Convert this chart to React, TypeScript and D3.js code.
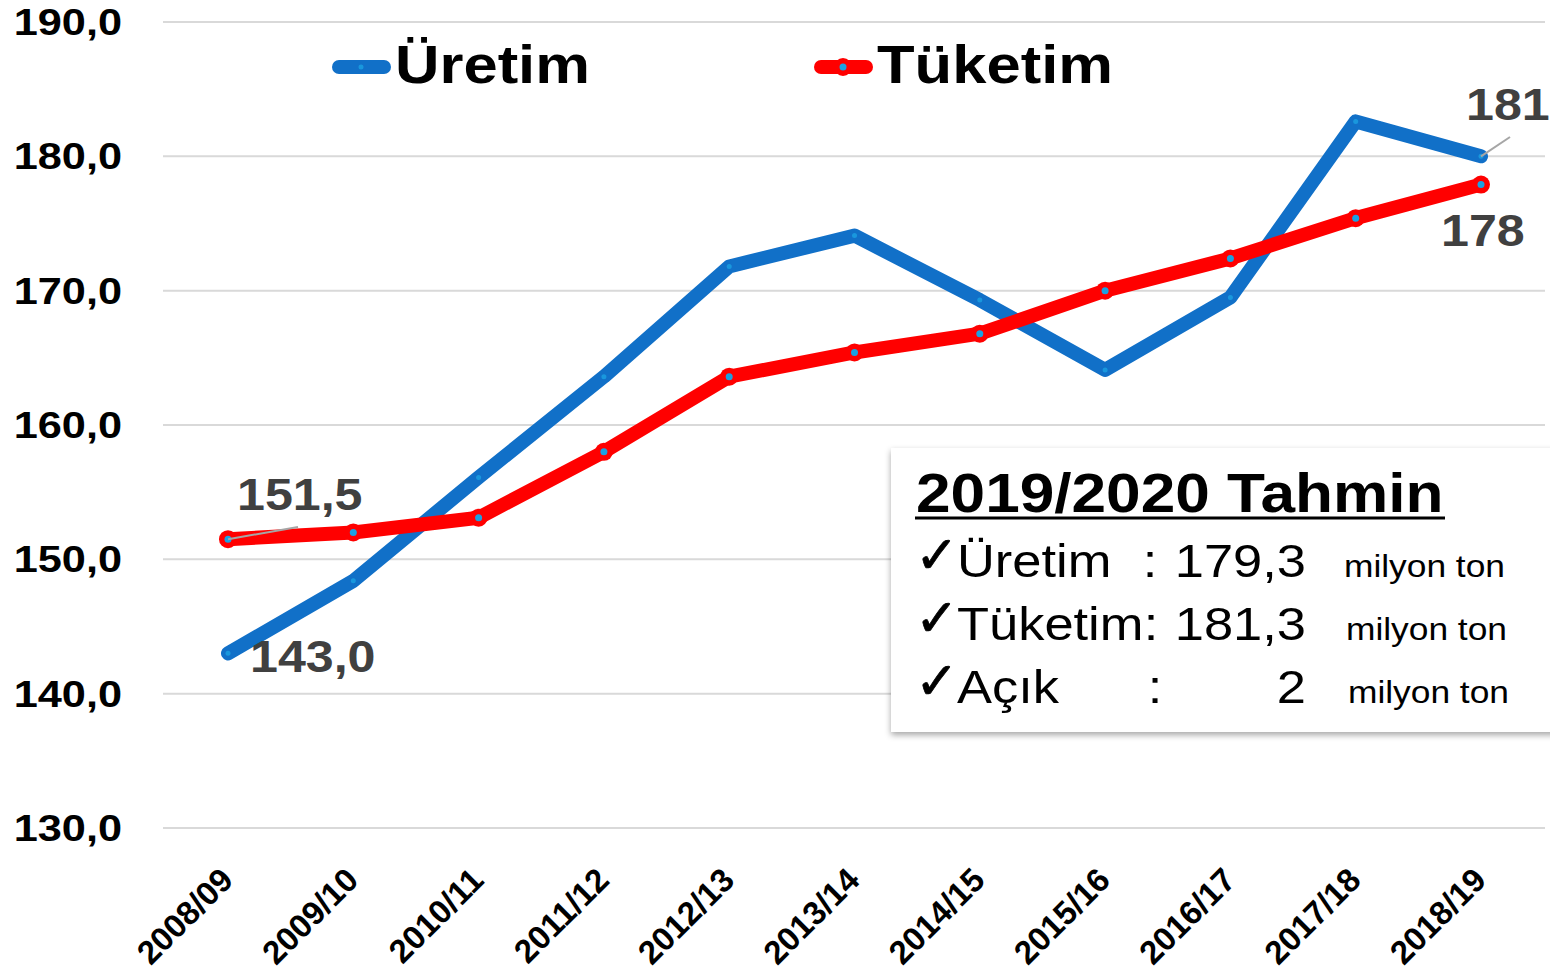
import React from "react";
import * as d3 from "d3";

const seasons = [
  "2008/09", "2009/10", "2010/11", "2011/12", "2012/13", "2013/14",
  "2014/15", "2015/16", "2016/17", "2017/18", "2018/19"
];
const uretim = [143.0, 148.4, 156.1, 163.6, 171.8, 174.1, 169.3, 164.1, 169.5, 182.6, 180.0];
const tuketim = [151.5, 152.0, 153.1, 158.0, 163.6, 165.4, 166.8, 170.0, 172.4, 175.4, 177.9];
const yTicks = [130, 140, 150, 160, 170, 180, 190];
const forecastLabels = ["Üretim", "Tüketim", "Açık"];
const forecastValues = ["179,3", "181,3", "2"];

const W = 1550;
const H = 977;
const BLUE = "#1170c8";
const RED = "#ff0000";
const DOT = "#1ba1e2";
const LABEL = "#404040";
const SANS = "'Liberation Sans', Arial, sans-serif";
const SX = 1.14; // the original picture is stretched sideways

const x = d3.scalePoint<string>().domain(seasons).range([228, 1481]);
const y = d3.scaleLinear().domain([130, 190]).range([828, 22]);

const line = d3
  .line<number>()
  .x((d, i) => x(seasons[i]) as number)
  .y(d => y(d));

const fmt = (v: number) => v.toFixed(1).replace(".", ",");

// text drawn with a horizontal stretch around its anchor
const SText = (props: any) => {
  const { x: tx, y: ty, sx = SX, children, ...rest } = props;
  return (
    <text transform={`translate(${tx},${ty}) scale(${sx},1)`} fontFamily={SANS} {...rest}>
      {children}
    </text>
  );
};

export default function App() {
  const last = seasons.length - 1;
  const rowY = [577, 640, 703];
  const colonX = [1150, 1151, 1155];
  return (
    <svg width={W} height={H} style={{ position: "absolute", left: 0, top: 0, background: "#fff" }}>
      <defs>
        <filter id="shadow" x="-5%" y="-5%" width="115%" height="120%">
          <feDropShadow dx="0" dy="3" stdDeviation="3" floodColor="#000" floodOpacity="0.35" />
        </filter>
      </defs>

      {/* grid + y labels */}
      {yTicks.map(t => (
        <g key={t}>
          <line x1={163} x2={1545} y1={y(t)} y2={y(t)} stroke="#d9d9d9" strokeWidth={2} />
          <SText x={122} y={y(t) + 13} sx={1.17} textAnchor="end" fontWeight="bold" fontSize={37} fill="#000">
            {fmt(t)}
          </SText>
        </g>
      ))}

      {/* x labels */}
      {seasons.map(s => (
        <text
          key={s}
          transform={`translate(${(x(s) as number) + 7},${882}) rotate(-45)`}
          textAnchor="end"
          fontFamily={SANS}
          fontWeight="bold"
          fontSize={33}
          fill="#000"
        >
          {s}
        </text>
      ))}

      {/* lines */}
      <path d={line(uretim) || ""} fill="none" stroke={BLUE} strokeWidth={14} strokeLinejoin="round" strokeLinecap="round" />
      <path d={line(tuketim) || ""} fill="none" stroke={RED} strokeWidth={14} strokeLinejoin="round" strokeLinecap="round" />
      {tuketim.map((v, i) => (
        <g key={i}>
          <circle cx={x(seasons[i]) as number} cy={y(v)} r={9} fill={RED} />
          <circle cx={x(seasons[i]) as number} cy={y(v)} r={3.5} fill={DOT} />
        </g>
      ))}
      {uretim.map((v, i) => (
        <circle key={i} cx={x(seasons[i]) as number} cy={y(v)} r={2.5} fill={DOT} opacity={0.8} />
      ))}

      {/* data labels */}
      <line x1={x(seasons[0]) as number} y1={y(tuketim[0])} x2={298} y2={527} stroke="#a6a6a6" strokeWidth={2} />
      <SText x={237} y={510} fontWeight="bold" fontSize={44} fill={LABEL}>{fmt(tuketim[0])}</SText>
      <SText x={250} y={672} fontWeight="bold" fontSize={44} fill={LABEL}>{fmt(uretim[0])}</SText>
      <line x1={x(seasons[last]) as number} y1={y(uretim[last])} x2={1510} y2={137} stroke="#a6a6a6" strokeWidth={2} />
      <SText x={1466} y={120} fontWeight="bold" fontSize={44} fill={LABEL}>181</SText>
      <SText x={1441} y={246} fontWeight="bold" fontSize={44} fill={LABEL}>178</SText>

      {/* legend */}
      <line x1={339} x2={384} y1={67} y2={67} stroke={BLUE} strokeWidth={14} strokeLinecap="round" />
      <circle cx={361} cy={67} r={2.5} fill={DOT} opacity={0.8} />
      <SText x={395} y={83} fontWeight="bold" fontSize={54} fill="#000">Üretim</SText>
      <line x1={821} x2={866} y1={67} y2={67} stroke={RED} strokeWidth={14} strokeLinecap="round" />
      <circle cx={843} cy={67} r={9} fill={RED} />
      <circle cx={843} cy={67} r={3.5} fill={DOT} />
      <SText x={877} y={83} fontWeight="bold" fontSize={54} fill="#000">Tüketim</SText>

      {/* forecast box */}
      <rect x={891} y={448} width={670} height={284} fill="#fff" filter="url(#shadow)" />
      <SText x={916} y={512} sx={1.11} fontWeight="bold" fontSize={56} fill="#000">
        2019/2020 Tahmin
      </SText>
      <line x1={915} x2={1445} y1={518} y2={518} stroke="#000" strokeWidth={3} />
      {forecastLabels.map((lab, i) => {
        const by = rowY[i];
        return (
          <g key={lab} fill="#000">
            <text x={915} y={by - 4} fontFamily="'DejaVu Sans', sans-serif" fontSize={52} stroke="#000" strokeWidth={0.8}>✓</text>
            <SText x={957} y={by} fontSize={46}>{lab}</SText>
            <SText x={colonX[i]} y={by} fontSize={46} textAnchor="middle">:</SText>
            <SText x={1306} y={by} fontSize={46} textAnchor="end">{forecastValues[i]}</SText>
            <SText x={1505 + i * 2} y={by} fontSize={31} textAnchor="end">milyon ton</SText>
          </g>
        );
      })}
    </svg>
  );
}
